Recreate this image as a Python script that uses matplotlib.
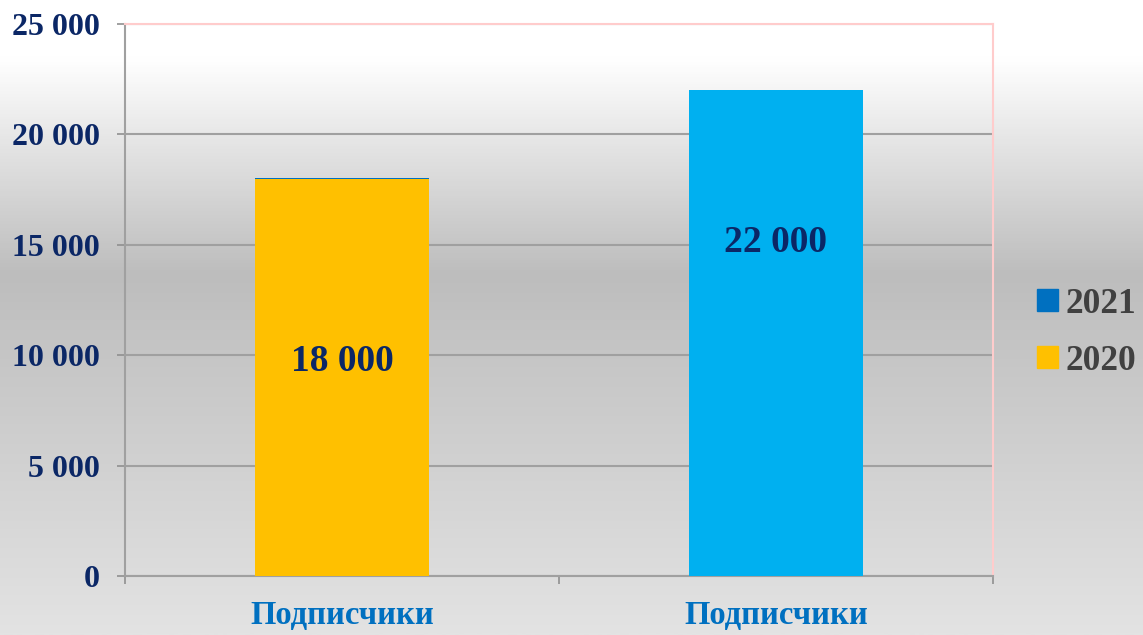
import numpy as np
import matplotlib
matplotlib.use("Agg")
import matplotlib.pyplot as plt
from matplotlib.colors import LinearSegmentedColormap
from matplotlib.patches import Patch

# ---- data ----
categories = ["Подписчики", "Подписчики"]
series_names = ["2020", "2021"]
values_2020 = [18000, 0]
values_2021 = [40, 22000]
bar_labels = ["18 000", "22 000"]
label_y = [9700, 15100]
y_ticks = [0, 5000, 10000, 15000, 20000, 25000]
y_tick_labels = ["0", "5 000", "10 000", "15 000", "20 000", "25 000"]

col_2020 = "#FFC000"
col_2021 = "#0070C0"
col_bar2 = "#00B0F0"
navy = "#0B2766"

serif = ["Liberation Serif", "DejaVu Serif"]

fig = plt.figure(figsize=(11.43, 6.35), dpi=100)

# background gradient
bg = fig.add_axes([0, 0, 1, 1], zorder=-10)
cmap = LinearSegmentedColormap.from_list(
    "bg", [(0.0, "#ffffff"), (0.09, "#ffffff"), (0.43, "#bdbdbd"), (1.0, "#e3e3e3")])
grad = np.linspace(0, 1, 512).reshape(-1, 1)
bg.imshow(grad, aspect="auto", cmap=cmap, extent=[0, 1, 0, 1], origin="upper")
bg.set_axis_off()

ax = fig.add_axes([125/1143, 59/635, 868/1143, 552/635])
ax.set_facecolor("none")
x = np.arange(len(categories))
w = 0.4
ax.bar(x, values_2020, w, color=col_2020, zorder=3)
ax.bar(x, values_2021, w, bottom=values_2020, color=[col_2021, col_bar2], zorder=3)

for xi, lab, yy in zip(x, bar_labels, label_y):
    ax.text(xi, yy, lab, ha="center", va="center", fontsize=27, fontweight="bold",
            color=navy, family=serif, zorder=5)

ax.set_xlim(-0.5, 1.5)
ax.set_ylim(0, 25000)
ax.set_yticks(y_ticks)
ax.set_yticklabels(y_tick_labels, fontsize=23, fontweight="bold", color=navy, family=serif)
ax.yaxis.grid(True, color="#a0a0a0", linewidth=1.5, zorder=0)
ax.set_axisbelow(True)

ax.set_xticks(x)
ax.set_xticklabels(categories, fontsize=23.5, fontweight="bold", color="#0070C0", family=serif)
ax.set_xticks([-0.5, 0.5, 1.5], minor=True)
ax.tick_params(axis="x", which="major", length=0, pad=17)
ax.tick_params(axis="x", which="minor", length=6, width=1.2, color="#909090", direction="out")
ax.tick_params(axis="y", length=6, width=1.2, color="#909090", direction="out", pad=12)

for s in ["left", "bottom"]:
    ax.spines[s].set_color("#a0a0a0")
    ax.spines[s].set_linewidth(1.5)
for s in ["top", "right"]:
    ax.spines[s].set_color("#ffcccc")
    ax.spines[s].set_linewidth(1.5)

handles = [Patch(color=col_2021, label="2021"), Patch(color=col_2020, label="2020")]
leg = fig.legend(handles=handles, loc="center left", bbox_to_anchor=(1037/1143, 0.476),
                 frameon=False, handlelength=0.58, handleheight=0.58, handletextpad=0.22,
                 labelspacing=0.68, borderpad=0, borderaxespad=0,
                 prop={"family": serif, "weight": "bold", "size": 25.5})
for t in leg.get_texts():
    t.set_color("#404040")

fig.savefig("out.png", dpi=100)
